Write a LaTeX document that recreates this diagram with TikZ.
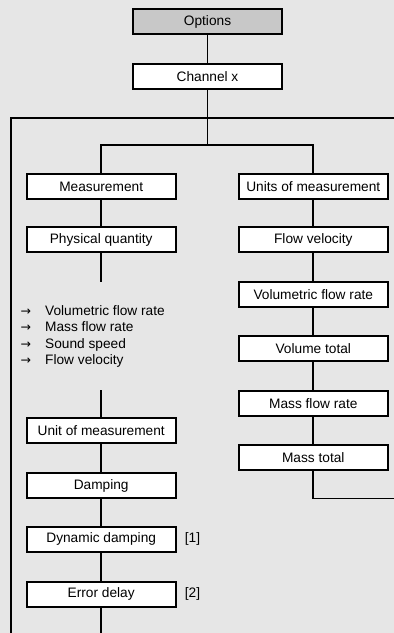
\documentclass[tikz,border=0pt]{standalone}
\usepackage{fontspec}
\setmainfont{Liberation Sans}
\newfontfamily\arrfont{DejaVu Sans}
\begin{document}
\begin{tikzpicture}[x=1pt,y=-1pt,
  box/.style={draw=black,line width=1.8pt,fill=white,minimum width=149pt,minimum height=25pt,inner sep=0pt,font=\fontsize{13.7}{16}\selectfont},
  conn/.style={line width=1.8pt,draw=black},
  lbl/.style={font=\fontsize{13.7}{16}\selectfont,inner sep=0pt},
  arr/.style={font=\arrfont\fontsize{12.5}{12.5}\selectfont,inner sep=0pt}]
\definecolor{bg}{RGB}{230,230,230}
\definecolor{optfill}{RGB}{200,200,200}
\fill[bg] (0,0) rectangle (394,633);
\useasboundingbox (0,0) rectangle (394,633);
% nodes
\node[box,fill=optfill] (opt) at (207.5,21.8) {Options};
\node[box] (ch) at (207.5,76.7) {Channel x};
\node[box] (meas) at (101.2,186.5) {Measurement};
\node[box] (phys) at (101.2,239.7) {Physical quantity};
\node[box] (units) at (313.3,186.5) {Units of measurement};
\node[box] (fv) at (313.3,239.7) {Flow velocity};
\node[box] (vfr) at (313.3,294.5) {Volumetric flow rate};
\node[box] (vt) at (313.3,348.8) {Volume total};
\node[box] (mfr) at (313.3,403.7) {Mass flow rate};
\node[box] (mt) at (313.3,457.8) {Mass total};
\node[box] (uom) at (101.2,430.3) {Unit of measurement};
\node[box] (damp) at (101.2,485.5) {Damping};
\node[box] (dyn) at (101.2,539.3) {Dynamic damping};
\node[box] (err) at (101.2,594.3) {Error delay};
\node[lbl] (n1) at (192.5,539.3) {[1]};
\node[lbl] (n2) at (192.5,594.3) {[2]};
% list
\node[arr,anchor=base west] (a1) at (20.5,315) {→};
\node[arr,anchor=base west] (a2) at (20.5,331.5) {→};
\node[arr,anchor=base west] (a3) at (20.5,348) {→};
\node[arr,anchor=base west] (a4) at (20.5,364.5) {→};
\node[lbl,anchor=base west] (t1) at (45,315) {Volumetric flow rate};
\node[lbl,anchor=base west] (t2) at (45,331.5) {Mass flow rate};
\node[lbl,anchor=base west] (t3) at (45,348) {Sound speed};
\node[lbl,anchor=base west] (t4) at (45,364.5) {Flow velocity};
% coordinates
\coordinate (j1) at (207.5,118);
\coordinate (lt) at (11,118);
\coordinate (rt) at (394,118);
\coordinate (lb) at (11,633);
\coordinate (j2) at (207.5,145);
\coordinate (j2l) at (101.2,145);
\coordinate (j2r) at (313.3,145);
\coordinate (pend) at (101.2,282);
\coordinate (ustart) at (101.2,390);
\coordinate (ebot) at (101.2,633);
\coordinate (rb) at (313.3,498.5);
\coordinate (rbe) at (394,498.5);
% connectors
\draw[conn] (opt) -- (ch);
\draw[conn] (ch) -- (j1);
\draw[conn] (rt) -- (lt) -- (lb);
\draw[conn] (j1) -- (j2);
\draw[conn] (meas.north) -- (j2l) -- (j2r) -- (units.north);
\draw[conn] (meas) -- (phys);
\draw[conn] (phys) -- (pend);
\draw[conn] (ustart) -- (uom);
\draw[conn] (uom) -- (damp);
\draw[conn] (damp) -- (dyn);
\draw[conn] (dyn) -- (err);
\draw[conn] (err) -- (ebot);
\draw[conn] (units) -- (fv);
\draw[conn] (fv) -- (vfr);
\draw[conn] (vfr) -- (vt);
\draw[conn] (vt) -- (mfr);
\draw[conn] (mfr) -- (mt);
\draw[conn] (mt.south) -- (rb) -- (rbe);
\end{tikzpicture}
\end{document}
